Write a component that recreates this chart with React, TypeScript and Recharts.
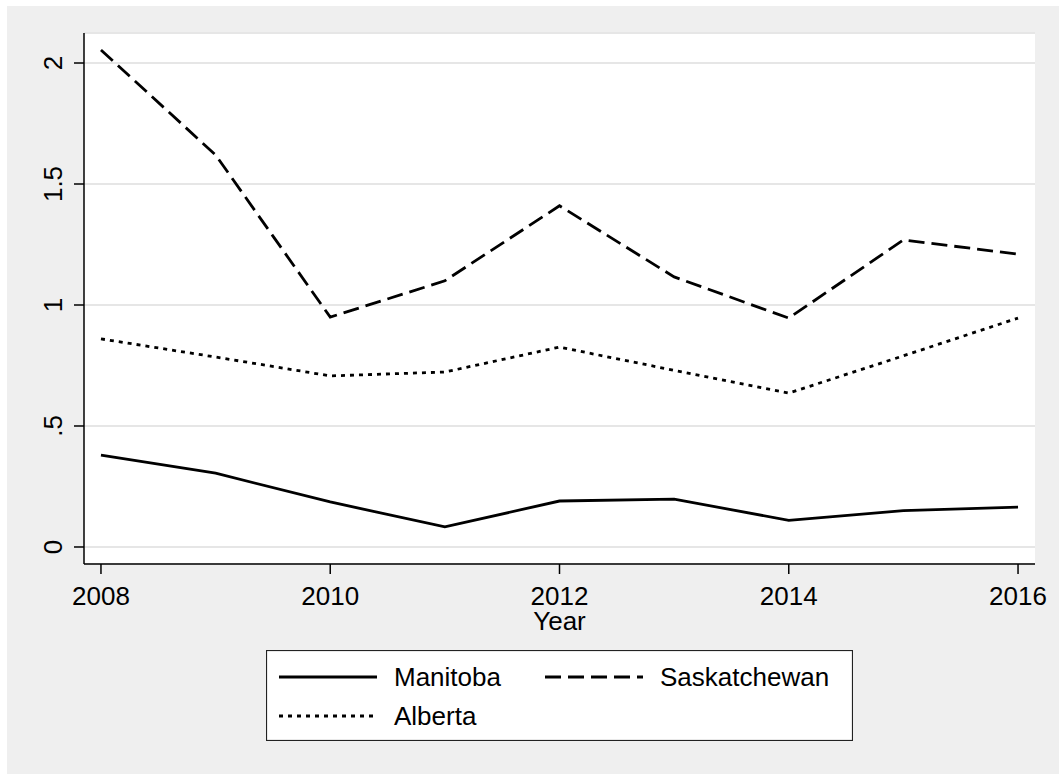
import {
  LineChart, Line, XAxis, YAxis, CartesianGrid, Label,
} from 'recharts';

const YEARS = [2008, 2009, 2010, 2011, 2012, 2013, 2014, 2015, 2016];
const MANITOBA = [0.38, 0.305, 0.186, 0.083, 0.19, 0.198, 0.11, 0.15, 0.165];
const SASKATCHEWAN = [2.054, 1.62, 0.95, 1.10, 1.41, 1.116, 0.946, 1.269, 1.21];
const ALBERTA = [0.86, 0.785, 0.707, 0.723, 0.826, 0.73, 0.636, 0.79, 0.946];

const X_TICKS = [2008, 2010, 2012, 2014, 2016];
const Y_TICKS = [0, 0.5, 1, 1.5, 2];
const Y_LABELS = ['0', '.5', '1', '1.5', '2'];

const SERIES = [
  { key: 'manitoba', name: 'Manitoba', dash: undefined as string | undefined },
  { key: 'saskatchewan', name: 'Saskatchewan', dash: '16 7' },
  { key: 'alberta', name: 'Alberta', dash: '4 5' },
];

const data = YEARS.map((year, i) => ({
  year,
  manitoba: MANITOBA[i],
  saskatchewan: SASKATCHEWAN[i],
  alberta: ALBERTA[i],
}));

const FONT = '"Liberation Sans", Arial, sans-serif';
const BG = '#efefef';

function XTick({ x, y, payload }: any) {
  return (
    <text x={x} y={y} dy={31} textAnchor="middle" fontSize={26} fontFamily={FONT} fill="#000">
      {payload.value}
    </text>
  );
}

function YTick({ x, y, payload }: any) {
  const idx = Y_TICKS.indexOf(payload.value);
  const bx = x - 12;
  return (
    <text
      x={bx}
      y={y}
      transform={`rotate(-90, ${bx}, ${y})`}
      textAnchor="middle"
      fontSize={26}
      fontFamily={FONT}
      fill="#000"
    >
      {idx >= 0 ? Y_LABELS[idx] : payload.value}
    </text>
  );
}

function LegendBox() {
  // Manitoba + Saskatchewan on row 1, Alberta on row 2
  const rows = [
    [SERIES[0], SERIES[1]],
    [SERIES[2]],
  ];
  return (
    <svg
      width={587}
      height={91}
      style={{ position: 'absolute', left: 259, top: 644 }}
    >
      <rect x={0.5} y={0.5} width={586} height={90} fill="#fff" stroke="#222" strokeWidth={1.2} />
      {rows.map((row, r) =>
        row.map((s, c) => {
          const lx = 13 + c * 266;
          const cy = 27 + r * 39;
          return (
            <g key={s.key}>
              <line
                x1={lx}
                x2={lx + 98}
                y1={cy}
                y2={cy}
                stroke="#000"
                strokeWidth={2.8}
                strokeDasharray={s.dash}
              />
              <text x={lx + 115} y={cy + 9} fontSize={26} fontFamily={FONT} fill="#000">
                {s.name}
              </text>
            </g>
          );
        })
      )}
    </svg>
  );
}

export default function App() {
  return (
    <div style={{ position: 'relative', width: 1059, height: 774, background: '#fff' }}>
      <style>{'body{margin:0}'}</style>
      <div
        style={{
          position: 'absolute',
          left: 7,
          top: 6,
          width: 1052,
          height: 768,
          background: BG,
        }}
      >
        <LineChart
          width={1052}
          height={768}
          data={data}
          margin={{ top: 27, right: 24, left: 0, bottom: 130 }}
        >
          <CartesianGrid
            vertical={false}
            fill="#fff"
            stroke="#e6e6e6"
            strokeWidth={2}
          />
          <XAxis
            dataKey="year"
            type="number"
            domain={[2007.852, 2016.148]}
            ticks={X_TICKS}
            allowDataOverflow
            height={80}
            tickSize={10}
            tickMargin={0}
            axisLine={{ stroke: '#000', strokeWidth: 1.5 }}
            tickLine={{ stroke: '#000', strokeWidth: 1.5 }}
            tick={<XTick />}
          >
            <Label
              content={(props: any) => {
                const vb = props.viewBox || {};
                return (
                  <text
                    x={vb.x + vb.width / 2}
                    y={vb.y + 66}
                    textAnchor="middle"
                    fontSize={26}
                    fontFamily={FONT}
                    fill="#000"
                  >
                    Year
                  </text>
                );
              }}
            />
          </XAxis>
          <YAxis
            type="number"
            domain={[-0.0703, 2.124]}
            ticks={Y_TICKS}
            allowDataOverflow
            width={77}
            tickSize={10}
            tickMargin={0}
            axisLine={{ stroke: '#000', strokeWidth: 1.5 }}
            tickLine={{ stroke: '#000', strokeWidth: 1.5 }}
            tick={<YTick />}
          />
          {SERIES.map((s) => (
            <Line
              key={s.key}
              type="linear"
              dataKey={s.key}
              name={s.name}
              stroke="#000"
              strokeWidth={2.8}
              strokeDasharray={s.dash}
              dot={false}
              activeDot={false}
              isAnimationActive={false}
            />
          ))}
        </LineChart>
        <LegendBox />
      </div>
    </div>
  );
}
